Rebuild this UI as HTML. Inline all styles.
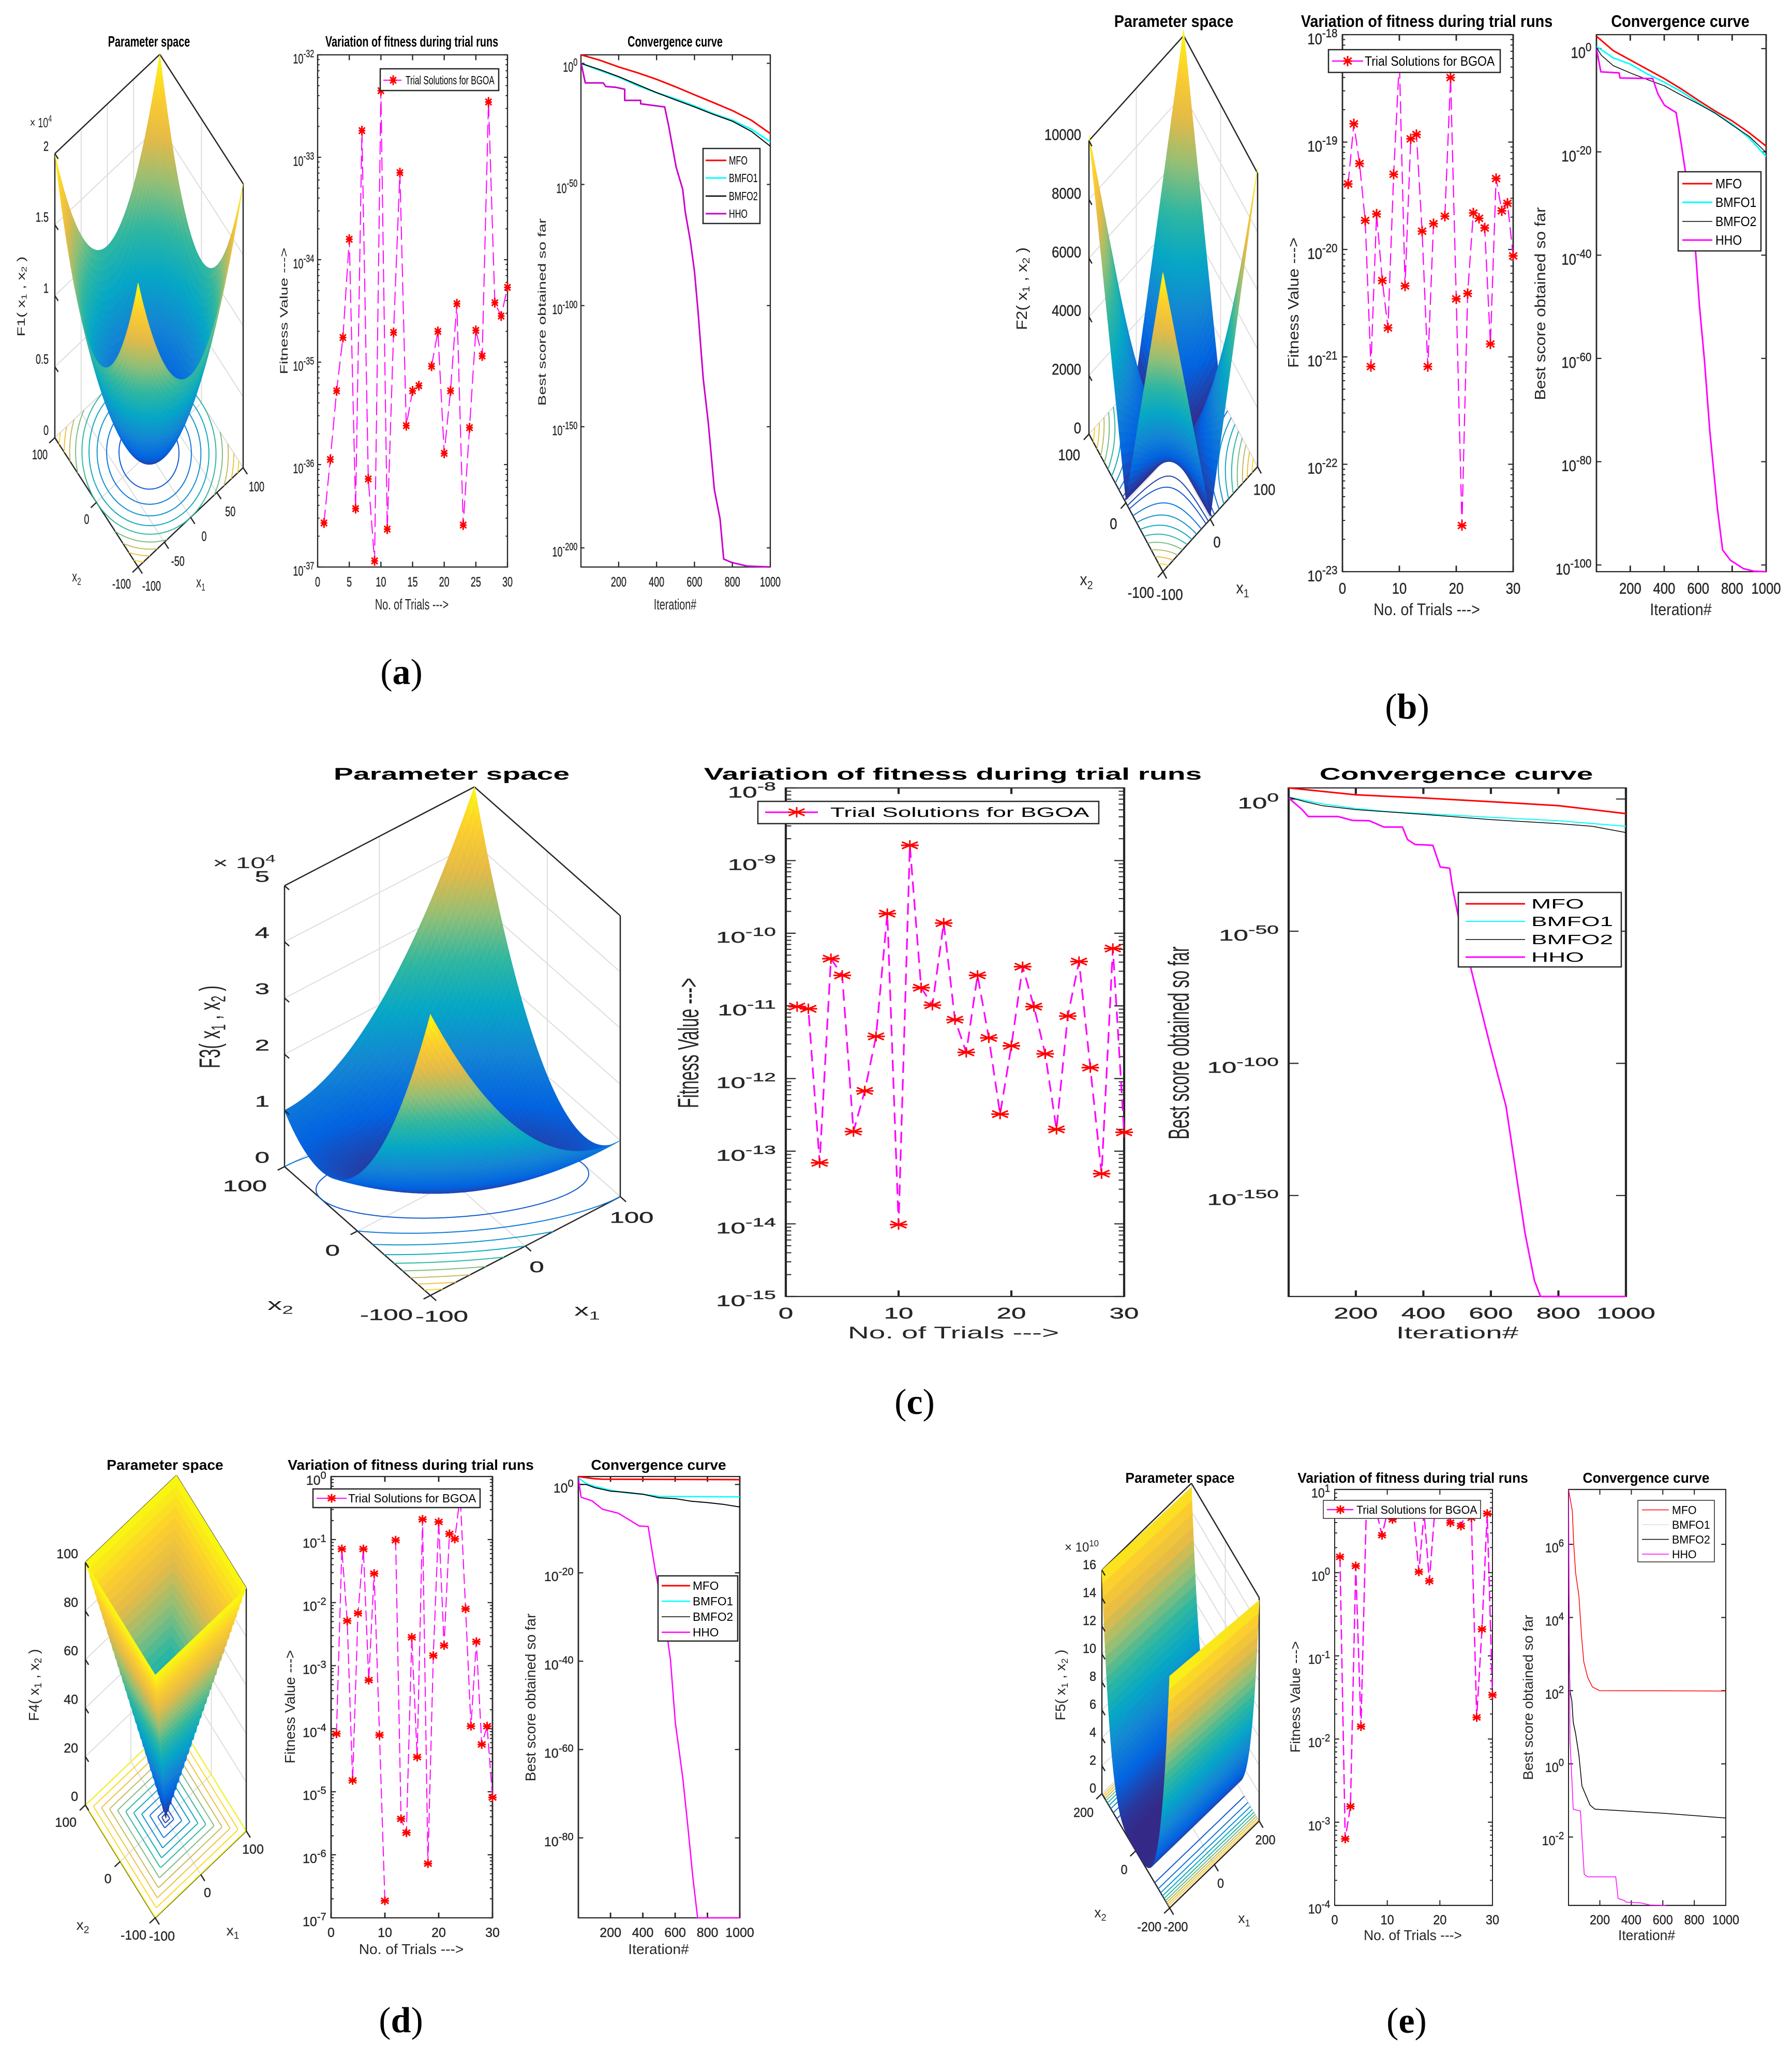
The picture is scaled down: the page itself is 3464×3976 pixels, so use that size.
<!DOCTYPE html>
<html lang="en">
<head>
<meta charset="utf-8">
<title>Parameter space, fitness variation and convergence curves F1-F5</title>
<style>
html,body{margin:0;padding:0;background:#fff;}
svg{display:block;}
text{font-family:"Liberation Sans",sans-serif;}
.title{font-size:22px;font-weight:bold;text-anchor:middle;fill:#000;}
.lab{font-size:22px;text-anchor:middle;fill:#262626;}
.zlab{font-size:24px;text-anchor:middle;fill:#262626;}
.leg{font-size:18px;fill:#000;}
.cap{font-family:"Liberation Serif",serif;font-size:70px;text-anchor:middle;fill:#000;}
.box{fill:#fff;stroke:#262626;stroke-width:2.5;}
</style>
</head>
<body>
<svg id="figure" xmlns="http://www.w3.org/2000/svg" width="3464" height="3976" viewBox="0 0 3464 3976">
<rect x="0" y="0" width="3464" height="3976" fill="#fff"/>
<g id="marks"></g>

<!-- PANEL A -->
<g>
<text class="title" transform="translate(288,90) scale(.9,1.3)">Parameter space</text>
<text class="title" transform="translate(796,90) scale(.9,1.3)">Variation of fitness during trial runs</text>
<text class="title" transform="translate(1305,90) scale(.9,1.3)">Convergence curve</text>
<text class="lab" transform="translate(796,1178) scale(.9,1.3)">No. of Trials ---&gt;</text>
<text class="lab" transform="translate(1305,1178) scale(.9,1.3)">Iteration#</text>
<text class="zlab" transform="translate(556,601) scale(.9,1.3) rotate(-90)">Fitness Value ---&gt;</text>
<text class="zlab" transform="translate(1055,603) scale(.9,1.3) rotate(-90)">Best score obtained so far</text>
<text class="zlab" transform="translate(48,573) scale(.9,1.3) rotate(-90)">F1( x<tspan dy="4" font-size="16">1</tspan><tspan dy="-4"> , x</tspan><tspan dy="4" font-size="16">2</tspan><tspan dy="-4"> )</tspan></text>
<text class="lab" transform="translate(148,1124) scale(.9,1.3)">x<tspan dy="5" font-size="15">2</tspan></text>
<text class="lab" transform="translate(388,1135) scale(.9,1.3)">x<tspan dy="5" font-size="15">1</tspan></text>
<text class="lab" transform="translate(79,246) scale(.9,1.3)" font-size="20" style="font-size:20px">× 10<tspan dy="-8" font-size="14">4</tspan></text>
<g>
<rect class="box" x="735" y="133" width="229" height="42"/>
<path d="M741,155H776" stroke="#f0f" stroke-width="2" fill="none"/>
<path transform="translate(760,155)" d="M0,-9.5V9.5M-6.5,0H6.5M-5.8,-6.2L5.8,6.2M-5.8,6.2L5.8,-6.2" stroke="#f00" stroke-width="3" fill="none"/>
<text class="leg" transform="translate(784,163) scale(.9,1.3)" style="font-size:17.5px">Trial Solutions for BGOA</text>
</g>
<g>
<rect class="box" x="1359" y="287" width="110" height="145"/>
<path d="M1364,310H1404" stroke="#f00" stroke-width="3"/>
<path d="M1364,344H1404" stroke="#0ff" stroke-width="3"/>
<path d="M1364,379H1404" stroke="#000" stroke-width="2.5"/>
<path d="M1364,413H1404" stroke="#c0c" stroke-width="3"/>
<text class="leg" transform="translate(1409,318) scale(.9,1.3)">MFO</text>
<text class="leg" transform="translate(1409,352) scale(.9,1.3)">BMFO1</text>
<text class="leg" transform="translate(1409,387) scale(.9,1.3)">BMFO2</text>
<text class="leg" transform="translate(1409,421) scale(.9,1.3)">HHO</text>
</g>
<text class="cap" x="776" y="1322">(<tspan font-weight="bold">a</tspan>)</text>
</g>

<!-- PANEL B -->
<g>
<text class="title" transform="translate(2269,52) scale(1.31,1.46)">Parameter space</text>
<text class="title" transform="translate(2758,52) scale(1.31,1.46)">Variation of fitness during trial runs</text>
<text class="title" transform="translate(3248,52) scale(1.31,1.46)">Convergence curve</text>
<text class="lab" transform="translate(2758,1189) scale(1.3,1.46)">No. of Trials ---&gt;</text>
<text class="lab" transform="translate(3249,1189) scale(1.3,1.46)">Iteration#</text>
<text class="lab" transform="translate(2510,585) scale(1.3,1.46) rotate(-90)">Fitness Value ---&gt;</text>
<text class="lab" transform="translate(2987,587) scale(1.3,1.46) rotate(-90)">Best score obtained so far</text>
<text class="lab" transform="translate(1985,558) scale(1.3,1.46) rotate(-90)">F2( x<tspan dy="4" font-size="15">1</tspan><tspan dy="-4"> , x</tspan><tspan dy="4" font-size="15">2</tspan><tspan dy="-4"> )</tspan></text>
<text class="lab" transform="translate(2100,1131) scale(1.3,1.46)">x<tspan dy="5" font-size="15">2</tspan></text>
<text class="lab" transform="translate(2402,1147) scale(1.3,1.46)">x<tspan dy="5" font-size="15">1</tspan></text>
<g>
<rect class="box" x="2568" y="96" width="332" height="44"/>
<path d="M2575,118H2635" stroke="#f0f" stroke-width="2.5"/>
<path transform="translate(2605,118)" d="M0,-10V10M-8.5,0H8.5M-7.6,-6.5L7.6,6.5M-7.6,6.5L7.6,-6.5" stroke="#f00" stroke-width="3" fill="none"/>
<text class="leg" transform="translate(2638,127) scale(1.28,1.46)">Trial Solutions for BGOA</text>
</g>
<g>
<rect class="box" x="3244" y="332" width="160" height="153"/>
<path d="M3252,355H3310" stroke="#f00" stroke-width="3"/>
<path d="M3252,391H3310" stroke="#0ff" stroke-width="3"/>
<path d="M3252,428H3310" stroke="#000" stroke-width="1.5"/>
<path d="M3252,464H3310" stroke="#f0f" stroke-width="3"/>
<text class="leg" transform="translate(3316,364) scale(1.28,1.46)">MFO</text>
<text class="leg" transform="translate(3316,400) scale(1.28,1.46)">BMFO1</text>
<text class="leg" transform="translate(3316,437) scale(1.28,1.46)">BMFO2</text>
<text class="leg" transform="translate(3316,473) scale(1.28,1.46)">HHO</text>
</g>
<text class="cap" x="2720" y="1389">(<tspan font-weight="bold">b</tspan>)</text>
</g>

<!-- PANEL C -->
<g>
<text class="title" transform="translate(873,1507) scale(2.59,1.46)">Parameter space</text>
<text class="title" transform="translate(1842,1507) scale(2.59,1.46)">Variation of fitness during trial runs</text>
<text class="title" transform="translate(2815,1507) scale(2.59,1.46)">Convergence curve</text>
<text class="lab" transform="translate(1843,2587) scale(2.58,1.46)">No. of Trials ---&gt;</text>
<text class="lab" transform="translate(2817,2587) scale(2.58,1.46)">Iteration#</text>
<text class="lab" transform="translate(1350,2016) scale(2.58,1.46) rotate(-90)">Fitness Value ---&gt;</text>
<text class="lab" transform="translate(2298,2016) scale(2.58,1.46) rotate(-90)">Best score obtained so far</text>
<text class="lab" transform="translate(425,1985) scale(2.58,1.46) rotate(-90)">F3( x<tspan dy="4" font-size="15">1</tspan><tspan dy="-4"> , x</tspan><tspan dy="4" font-size="15">2</tspan><tspan dy="-4"> )</tspan></text>
<text class="lab" transform="translate(542,2532) scale(2.58,1.46)">x<tspan dy="5" font-size="15">2</tspan></text>
<text class="lab" transform="translate(1135,2543) scale(2.58,1.46)">x<tspan dy="5" font-size="15">1</tspan></text>
<text class="lab" transform="translate(472,1678) scale(2.58,1.46)" style="font-size:20px">× 10<tspan dy="-8" font-size="14">4</tspan></text>
<g>
<rect class="box" x="1465" y="1549" width="659" height="43"/>
<path d="M1479,1570H1581" stroke="#f0f" stroke-width="3"/>
<path transform="translate(1540,1570)" d="M0,-10V10M-17,0H17M-15.3,-6.5L15.3,6.5M-15.3,6.5L15.3,-6.5" stroke="#f00" stroke-width="3" fill="none"/>
<text class="leg" transform="translate(1605,1579) scale(2.55,1.46)">Trial Solutions for BGOA</text>
</g>
<g>
<rect class="box" x="2819" y="1725" width="315" height="144"/>
<path d="M2833,1747H2948" stroke="#f00" stroke-width="3"/>
<path d="M2833,1781H2948" stroke="#0ff" stroke-width="2"/>
<path d="M2833,1816H2948" stroke="#000" stroke-width="1.5"/>
<path d="M2833,1850H2948" stroke="#f0f" stroke-width="3"/>
<text class="leg" transform="translate(2960,1756) scale(2.55,1.46)">MFO</text>
<text class="leg" transform="translate(2960,1790) scale(2.55,1.46)">BMFO1</text>
<text class="leg" transform="translate(2960,1825) scale(2.55,1.46)">BMFO2</text>
<text class="leg" transform="translate(2960,1859) scale(2.55,1.46)">HHO</text>
</g>
<text class="cap" x="1768" y="2733">(<tspan font-weight="bold">c</tspan>)</text>
</g>

<!-- PANEL D -->
<g>
<text class="title" transform="translate(319,2841) scale(1.28,1.27)">Parameter space</text>
<text class="title" transform="translate(794,2841) scale(1.28,1.27)">Variation of fitness during trial runs</text>
<text class="title" transform="translate(1273,2841) scale(1.28,1.27)">Convergence curve</text>
<text class="lab" transform="translate(795,3777) scale(1.28,1.27)">No. of Trials ---&gt;</text>
<text class="lab" transform="translate(1273,3777) scale(1.28,1.27)">Iteration#</text>
<text class="lab" transform="translate(570,3299) scale(1.28,1.27) rotate(-90)">Fitness Value ---&gt;</text>
<text class="lab" transform="translate(1035,3281) scale(1.28,1.27) rotate(-90)">Best score obtained so far</text>
<text class="lab" transform="translate(75,3257) scale(1.28,1.27) rotate(-90)">F4( x<tspan dy="4" font-size="15">1</tspan><tspan dy="-4"> , x</tspan><tspan dy="4" font-size="15">2</tspan><tspan dy="-4"> )</tspan></text>
<text class="lab" transform="translate(160,3730) scale(1.28,1.27)">x<tspan dy="5" font-size="15">2</tspan></text>
<text class="lab" transform="translate(450,3741) scale(1.28,1.27)">x<tspan dy="5" font-size="15">1</tspan></text>
<g>
<rect class="box" x="605" y="2878" width="323" height="36"/>
<path d="M612,2896H670" stroke="#f0f" stroke-width="2"/>
<path transform="translate(641,2896)" d="M0,-8.5V8.5M-8,0H8M-7.2,-5.5L7.2,5.5M-7.2,5.5L7.2,-5.5" stroke="#f00" stroke-width="3" fill="none"/>
<text class="leg" transform="translate(673,2904) scale(1.26,1.27)">Trial Solutions for BGOA</text>
</g>
<g>
<rect class="box" x="1272" y="3046" width="154" height="126"/>
<path d="M1279,3065H1334" stroke="#f00" stroke-width="3"/>
<path d="M1279,3095H1334" stroke="#0ff" stroke-width="2.5"/>
<path d="M1279,3125H1334" stroke="#000" stroke-width="1.5"/>
<path d="M1279,3155H1334" stroke="#f0f" stroke-width="2.5"/>
<text class="leg" transform="translate(1339,3073) scale(1.26,1.27)">MFO</text>
<text class="leg" transform="translate(1339,3103) scale(1.26,1.27)">BMFO1</text>
<text class="leg" transform="translate(1339,3133) scale(1.26,1.27)">BMFO2</text>
<text class="leg" transform="translate(1339,3163) scale(1.26,1.27)">HHO</text>
</g>
<text class="cap" x="775" y="3928">(<tspan font-weight="bold">d</tspan>)</text>
</g>

<!-- PANEL E -->
<g>
<text class="title" transform="translate(2281,2866) scale(1.2,1.25)">Parameter space</text>
<text class="title" transform="translate(2731,2866) scale(1.2,1.25)">Variation of fitness during trial runs</text>
<text class="title" transform="translate(3182,2866) scale(1.2,1.25)">Convergence curve</text>
<text class="lab" transform="translate(2731,3750) scale(1.2,1.25)">No. of Trials ---&gt;</text>
<text class="lab" transform="translate(3183,3750) scale(1.2,1.25)">Iteration#</text>
<text class="lab" transform="translate(2513,3280) scale(1.2,1.25) rotate(-90)">Fitness Value ---&gt;</text>
<text class="lab" transform="translate(2963,3281) scale(1.2,1.25) rotate(-90)">Best score obtained so far</text>
<text class="lab" transform="translate(2059,3257) scale(1.2,1.25) rotate(-90)">F5( x<tspan dy="4" font-size="15">1</tspan><tspan dy="-4"> , x</tspan><tspan dy="4" font-size="15">2</tspan><tspan dy="-4"> )</tspan></text>
<text class="lab" transform="translate(2127,3706) scale(1.2,1.25)">x<tspan dy="5" font-size="15">2</tspan></text>
<text class="lab" transform="translate(2405,3717) scale(1.2,1.25)">x<tspan dy="5" font-size="15">1</tspan></text>
<text class="lab" transform="translate(2091,2999) scale(1.2,1.25)" style="font-size:20px">× 10<tspan dy="-8" font-size="14">10</tspan></text>
<g>
<rect class="box" style="stroke-width:1.5" x="2558" y="2900" width="304" height="35"/>
<path d="M2565,2918H2616" stroke="#f0f" stroke-width="2.5"/>
<path transform="translate(2591,2918)" d="M0,-8.5V8.5M-8,0H8M-7.2,-5.5L7.2,5.5M-7.2,5.5L7.2,-5.5" stroke="#f00" stroke-width="3" fill="none"/>
<text class="leg" transform="translate(2622,2926) scale(1.19,1.25)">Trial Solutions for BGOA</text>
</g>
<g>
<rect class="box" style="stroke-width:1.5" x="3166" y="2900" width="148" height="119"/>
<path d="M3174,2918.5H3226" stroke="#f00" stroke-width="1.5"/>
<path d="M3174,2947H3226" stroke="#ddd" stroke-width="1.5"/>
<path d="M3174,2975.5H3226" stroke="#000" stroke-width="1.5"/>
<path d="M3174,3004H3226" stroke="#f0f" stroke-width="1.5"/>
<text class="leg" transform="translate(3232,2926.5) scale(1.19,1.25)">MFO</text>
<text class="leg" transform="translate(3232,2955) scale(1.19,1.25)">BMFO1</text>
<text class="leg" transform="translate(3232,2983.5) scale(1.19,1.25)">BMFO2</text>
<text class="leg" transform="translate(3232,3012) scale(1.19,1.25)">HHO</text>
</g>
<text class="cap" x="2719" y="3929">(<tspan font-weight="bold">e</tspan>)</text>
</g>
</svg>

<script>
/* ---------- Trial axis ---------- */
const trialNumbers = [1,2,3,4,5,6,7,8,9,10,11,12,13,14,15,16,17,18,19,20,21,22,23,24,25,26,27,28,29,30];

/* ---------- Fitness per trial (log10 of the value, null = no point drawn) ---------- */
const fitnessLogA = [-36.57,-35.95,-35.28,-34.76,-33.80,-36.43,-32.74,-36.14,-36.94,-32.35,-36.63,-34.71,-33.15,-35.62,-35.28,-35.23,null,-35.04,-34.70,-35.89,-35.28,-34.43,-36.59,-35.64,-34.69,-34.94,-32.46,-34.42,-34.55,-34.27];
const fitnessLogB = [-19.39,-18.83,-19.20,-19.73,-21.09,-19.67,-20.29,-20.73,-19.30,-18.24,-20.34,-18.97,-18.93,-19.83,-21.09,-19.76,null,-19.69,-18.40,-20.46,-22.57,-20.41,-19.66,-19.71,-19.80,-20.88,-19.34,-19.64,-19.57,-20.06];
const fitnessLogC = [-11.01,-11.04,-13.16,-10.35,-10.58,-12.73,-12.17,-11.42,-9.73,-14.01,-8.79,-10.75,-10.99,-9.86,-11.19,-11.64,-10.58,-11.44,-12.49,-11.55,-10.46,-11.01,-11.66,-12.70,-11.14,-10.39,-11.85,-13.31,-10.21,-12.74];
const fitnessLogD = [-4.08,-1.15,-2.29,-4.82,-2.17,-1.15,-3.23,-1.54,-4.10,-6.73,null,-1.01,-5.43,-5.65,-2.55,-4.45,-0.68,-6.14,-2.84,-0.72,-2.68,-0.91,-0.99,-0.30,-2.10,-3.96,-2.62,-4.25,-3.96,-5.09];
const fitnessLogE = [0.19,-3.20,-2.81,0.08,-1.85,0.72,0.72,0.72,0.45,0.72,0.64,0.72,0.72,0.72,0.72,0.01,0.72,-0.10,0.72,0.72,0.72,0.60,0.72,0.56,0.72,0.66,-1.74,-0.68,0.71,-1.47];

/* ---------- Tick labels ---------- */
const trialTicksA = [0,5,10,15,20,25,30];
const trialTicksOther = [0,10,20,30];
const iterationTicks = [200,400,600,800,1000];
const fitnessTicksA = [-37,-36,-35,-34,-33,-32];
const fitnessTicksB = [-23,-22,-21,-20,-19,-18];
const fitnessTicksC = [-15,-14,-13,-12,-11,-10,-9,-8];
const fitnessTicksD = [-7,-6,-5,-4,-3,-2,-1,0];
const fitnessTicksE = [-4,-3,-2,-1,0,1];
const scoreTicksA = [-200,-150,-100,-50,0];
const scoreTicksB = [-100,-80,-60,-40,-20,0];
const scoreTicksC = [-150,-100,-50,0];
const scoreTicksD = [-80,-60,-40,-20,0];
const scoreTicksE = [-2,0,2,4,6];

/* ---------- Convergence curves (iteration and log10 best score) ---------- */
const iterGridA = [1,100,200,300,400,500,600,700,800,900,1000];
const mfoA = [3.5,1.3,-1.5,-3.9,-6.6,-9.7,-13,-16.2,-19.5,-23.5,-29];
const bmfo1A = [0,-2.9,-5.7,-9.2,-12.1,-14.7,-17.6,-20.8,-23.5,-27.2,-32.4];
const bmfo2A = [0,-2.6,-5.5,-8.8,-12.1,-15.1,-18,-21.1,-23.9,-28.1,-34.2];
const hhoIterA = [1,24,119,132,186,232,232,316,316,443,465,503,538,551,578,600,619,646,673,705,735,754,795,876,1000];
const hhoA = [0.4,-8.1,-8.1,-9.6,-9.9,-10.7,-15.3,-15.3,-16.7,-18,-26.3,-42.8,-52,-61.2,-73.2,-86,-102.6,-130,-148.5,-176,-188,-204.6,-206,-207.5,-207.9];

const iterGridB = [1,100,200,300,400,500,600,700,800,900,1000];
const mfoB = [2.4,-0.4,-2.2,-4,-5.8,-7.8,-10,-12.1,-14,-16.3,-18.9];
const bmfo1B = [0.4,-1.8,-3,-4.9,-6.5,-8.3,-10.5,-12.5,-14.6,-17.3,-20.9];
const bmfo2IterB = [1,30,100,200,300,400,500,600,700,800,900,1000];
const bmfo2B = [0.2,-1.3,-3.3,-4.7,-6,-7.2,-9,-10.7,-12.5,-14.8,-17,-20.1];
const hhoIterB = [1,27,134,140,332,363,402,470,500,524,555,585,607,637,668,689,713,744,790,866,927,1000];
const hhoB = [0,-4.5,-4.7,-5.7,-5.8,-8.8,-11,-12.4,-18.4,-23.7,-30.9,-39.4,-49.7,-60.4,-73.9,-81,-89.1,-97.1,-99.1,-100.7,-101.2,-101.3];

const mfoIterC = [1,200,400,600,800,1000];
const mfoC = [4.2,1.6,0.4,-1,-2.5,-5.5];
const bmfo1IterC = [1,100,200,300,400,600,800,1000];
const bmfo1C = [0.7,-1.8,-3.6,-4.8,-5.5,-6.9,-8.2,-10.3];
const bmfo2IterC = [1,50,100,200,400,600,800,900,1000];
const bmfo2C = [0.7,-1,-2.5,-4,-5.8,-7.8,-9.3,-10.3,-12.7];
const hhoIterC = [1,41,59,147,190,240,283,338,353,375,428,450,478,487,506,552,599,645,673,701,729,747,1000];
const hhoC = [0.4,-4,-6.6,-6.6,-8.1,-8.2,-10.6,-10.6,-15.3,-17.2,-17.5,-25.7,-26.2,-34,-46,-69.9,-93.9,-116.3,-140.3,-164.2,-182.2,-188.2,-188.2];

const mfoIterD = [1,100,150,1000];
const mfoD = [1.8,1.3,1.2,1.1];
const bmfo1IterD = [1,50,100,200,300,400,500,1000];
const bmfo1D = [1.5,0.2,-0.4,-1.3,-1.9,-2.2,-2.7,-2.8];
const bmfo2IterD = [1,50,100,200,300,400,500,600,700,800,900,1000];
const bmfo2D = [0,0,-0.7,-1.5,-1.8,-2.2,-3,-3.2,-3.8,-4.1,-4.5,-5.1];
const hhoIterD = [1,18,86,150,248,316,377,433,457,479,540,571,601,647,678,709,739,1000];
const hhoD = [1.5,-2.9,-3.7,-5.6,-6.5,-8,-9.4,-9.5,-15,-19.9,-31.5,-39.6,-53.9,-66.4,-77.1,-88.7,-98.1,-98.1];

const mfoIterE = [1,25,34,46,67,83,98,123,153,199,1000];
const mfoE = [7.5,6.92,6.02,5.22,4.59,3.53,2.79,2.36,2.1,2,1.99];
const bmfo2IterE = [1,10,22,31,46,67,86,107,138,169,291,598,1000];
const bmfo2E = [4.59,1.99,1.73,1.14,0.83,0.24,-0.6,-0.82,-1.13,-1.24,-1.27,-1.35,-1.48];
const bmfo1IterE = [1,10,22,31,46,67,86,107,138,169,291,598,1000];
const bmfo1E = [4.5,1.95,1.7,1.1,0.8,0.2,-0.6,-0.82,-1.13,-1.24,-1.27,-1.35,-1.48];
const hhoIterE = [1,7,10,22,31,77,86,101,123,301,316,353,368,460,521,622];
const hhoE = [7.5,3.32,0.67,-0.39,-1.24,-1.29,-1.98,-3.02,-3.09,-3.09,-3.68,-3.73,-3.78,-3.8,-3.86,-3.87];

/* ---------- Surface height samples, rows run along x2, columns along x1 ---------- */
const surfaceA = [
[20000,15625,12500,10625,10000,10625,12500,15625,20000],
[15625,11250,8125,6250,5625,6250,8125,11250,15625],
[12500,8125,5000,3125,2500,3125,5000,8125,12500],
[10625,6250,3125,1250,625,1250,3125,6250,10625],
[10000,5625,2500,625,0,625,2500,5625,10000],
[10625,6250,3125,1250,625,1250,3125,6250,10625],
[12500,8125,5000,3125,2500,3125,5000,8125,12500],
[15625,11250,8125,6250,5625,6250,8125,11250,15625],
[20000,15625,12500,10625,10000,10625,12500,15625,20000]];
const surfaceB = [
[10200,7675,5150,2625,100,2625,5150,7675,10200],
[7675,5775,3875,1975,75,1975,3875,5775,7675],
[5150,3875,2600,1325,50,1325,2600,3875,5150],
[2625,1975,1325,675,25,675,1325,1975,2625],
[100,75,50,25,0,25,50,75,100],
[2625,1975,1325,675,25,675,1325,1975,2625],
[5150,3875,2600,1325,50,1325,2600,3875,5150],
[7675,5775,3875,1975,75,1975,3875,5775,7675],
[10200,7675,5150,2625,100,2625,5150,7675,10200]];
const surfaceC = [
[50000,40625,32500,25625,20000,15625,12500,10625,10000],
[36250,28125,21250,15625,11250,8125,6250,5625,6250],
[25000,18125,12500,8125,5000,3125,2500,3125,5000],
[16250,10625,6250,3125,1250,625,1250,3125,6250],
[10000,5625,2500,625,0,625,2500,5625,10000],
[6250,3125,1250,625,1250,3125,6250,10625,16250],
[5000,3125,2500,3125,5000,8125,12500,18125,25000],
[6250,5625,6250,8125,11250,15625,21250,28125,36250],
[10000,10625,12500,15625,20000,25625,32500,40625,50000]];
const surfaceD = [
[100,100,100,100,100,100,100,100,100],
[100,75,75,75,75,75,75,75,100],
[100,75,50,50,50,50,50,75,100],
[100,75,50,25,25,25,50,75,100],
[100,75,50,25,0,25,50,75,100],
[100,75,50,25,25,25,50,75,100],
[100,75,50,50,50,50,50,75,100],
[100,75,75,75,75,75,75,75,100],
[100,100,100,100,100,100,100,100,100]];
const surfaceE = [
[16.6,16.2,15.8],[9.7,9.45,9.2],[5.25,5.1,4.95],[2.52,2.46,2.4],[1.03,1,0.98],[0.325,0.316,0.31],[0.064,0.0625,0.061],[0.004,0.004,0.004],[0,0,0],
[0.004,0.004,0.004],[0.064,0.0625,0.061],[0.325,0.316,0.31],[1.01,1,0.98],[2.48,2.44,2.4],[5.14,5.06,4.95],[9.5,9.4,9.2],[16,15.85,15.72]];

/* ---------- Contour levels and 3-D tick values ---------- */
const contourLevelsA = [2000,4000,6000,8000,10000,12000,14000,16000,18000];
const contourLevelsB = [500,1000,2000,3000,4000,5000,6000,7000,8000,9000];
const contourLevelsC = [5000,10000,15000,20000,25000,30000,35000,40000,45000];
const contourLevelsD = [5,10,20,30,40,50,60,70,80,90,99.5];
const contourLevelsE = [1.6,3.2,4.8,6.4,8,9.6,11.2,12.8,14.4];
const zTicksA = [0,5000,10000,15000,20000];
const zLabelsA = ['0','0.5','1','1.5','2'];
const zTicksB = [0,2000,4000,6000,8000,10000];
const zLabelsB = ['0','2000','4000','6000','8000','10000'];
const zTicksC = [0,10000,20000,30000,40000,50000];
const zLabelsC = ['0','1','2','3','4','5'];
const zTicksD = [0,20,40,60,80,100];
const zLabelsD = ['0','20','40','60','80','100'];
const zTicksE = [0,2,4,6,8,10,12,14,16];
const zLabelsE = ['0','2','4','6','8','10','12','14','16'];
const x1TicksA = [-100,-50,0,50,100];
const x2TicksA = [-100,0,100];
const xyTicksOther = [-100,0,100];
const xyTicksE = [-200,0,200];

/* ---------- Colormap stops ---------- */
const parulaStops = [[0,53,42,135],[0.125,3,99,225],[0.25,20,133,212],[0.375,6,167,198],[0.5,48,183,160],[0.625,145,191,119],[0.75,228,186,72],[0.875,252,206,46],[1,249,251,14]];

/* ---------- Panel layout ---------- */
const panels = [
 {id:'a',sx:.9,sy:1.3,vw:2.3,
  surf:{F:[267,1096],L:[106,846],R:[470,904],H:549,zMax:20000,grid:surfaceA,mode:'smooth',stepU:2,stepV:2,levels:contourLevelsA,zTicks:zTicksA,zLabels:zLabelsA,x1Ticks:x1TicksA,x2Ticks:x2TicksA,range:[-100,100],off1:[26,36],off2:[-14,32],zGap:12,zDy:-15},
  mid:{box:[614,106,981,1096],yMin:-37,yMax:-32,xTicks:trialTicksA,yTicks:fitnessTicksA,values:fitnessLogA,mx:6.5,my:9.5,lw:2,dash:'26,10'},
  conv:{box:[1123,106,1489,1096],yMin:-207.9,yMax:3.5,yTicks:scoreTicksA,series:[
    {n:'mfo',it:iterGridA,v:mfoA,c:'#f00',w:3},{n:'bmfo1',it:iterGridA,v:bmfo1A,c:'#0ff',w:3},{n:'bmfo2',it:iterGridA,v:bmfo2A,c:'#000',w:2},{n:'hho',it:hhoIterA,v:hhoA,c:'#c0c',w:3}]}},
 {id:'b',sx:1.28,sy:1.46,vw:2.8,
  surf:{F:[2248,1105],L:[2105,839],R:[2431,902],H:567,zMax:10000,grid:surfaceB,mode:'linear',stepU:2,stepV:2,levels:contourLevelsB,zTicks:zTicksB,zLabels:zLabelsB,x1Ticks:xyTicksOther,x2Ticks:xyTicksOther,range:[-100,100],off1:[13,44],off2:[-17,40],zGap:15,zDy:-12},
  mid:{box:[2595,67,2925,1105],yMin:-23,yMax:-18,xTicks:trialTicksOther,yTicks:fitnessTicksB,values:fitnessLogB,mx:8.5,my:10,lw:2.2,dash:'24,10'},
  conv:{box:[3086,67,3414,1105],yMin:-101.3,yMax:2.7,yTicks:scoreTicksB,series:[
    {n:'mfo',it:iterGridB,v:mfoB,c:'#f00',w:3},{n:'bmfo1',it:iterGridB,v:bmfo1B,c:'#0ff',w:3},{n:'bmfo2',it:bmfo2IterB,v:bmfo2B,c:'#000',w:1.5},{n:'hho',it:hhoIterB,v:hhoB,c:'#f0f',w:3}]}},
 {id:'c',sx:2.55,sy:1.46,vw:4.2,
  surf:{F:[832,2504],L:[550,2255],R:[1199,2313],H:543,zMax:50000,grid:surfaceC,mode:'smooth',stepU:2,stepV:2,levels:contourLevelsC,zTicks:zTicksC,zLabels:zLabelsC,x1Ticks:xyTicksOther,x2Ticks:xyTicksOther,range:[-100,100],off1:[22,40],off2:[-34,37],zGap:29,zDy:-18},
  mid:{box:[1519,1523,2173,2506],yMin:-15,yMax:-8,xTicks:trialTicksOther,yTicks:fitnessTicksC,values:fitnessLogC,mx:17,my:10,lw:3.2,dash:'22,12'},
  conv:{box:[2491,1523,3143,2506],yMin:-188.2,yMax:4.2,yTicks:scoreTicksC,series:[
    {n:'mfo',it:mfoIterC,v:mfoC,c:'#f00',w:3},{n:'bmfo1',it:bmfo1IterC,v:bmfo1C,c:'#0ff',w:2},{n:'bmfo2',it:bmfo2IterC,v:bmfo2C,c:'#000',w:1.5},{n:'hho',it:hhoIterC,v:hhoC,c:'#f0f',w:3}]}},
 {id:'d',sx:1.25,sy:1.27,vw:2.8,
  surf:{F:[300,3707],L:[165,3489],R:[476,3539],H:469,zMax:100,grid:surfaceD,mode:'ridge',stepU:2,stepV:2,levels:contourLevelsD,zTicks:zTicksD,zLabels:zLabelsD,x1Ticks:xyTicksOther,x2Ticks:xyTicksOther,range:[-100,100],off1:[13,35],off2:[-17,33],zGap:14,zDy:-17},
  mid:{box:[640,2854,952,3707],yMin:-7,yMax:0,xTicks:trialTicksOther,yTicks:fitnessTicksD,values:fitnessLogD,mx:8,my:8.5,lw:2,dash:'20,8'},
  conv:{box:[1118,2854,1430,3707],yMin:-98.1,yMax:1.8,yTicks:scoreTicksD,series:[
    {n:'mfo',it:mfoIterD,v:mfoD,c:'#f00',w:3},{n:'bmfo1',it:bmfo1IterD,v:bmfo1D,c:'#0ff',w:2.5},{n:'bmfo2',it:bmfo2IterD,v:bmfo2D,c:'#000',w:2},{n:'hho',it:hhoIterD,v:hhoD,c:'#f0f',w:2.5}]}},
 {id:'e',sx:1.17,sy:1.25,vw:2,
  surf:{F:[2261,3688],L:[2130,3467],R:[2434,3520],H:432,zMax:16,grid:surfaceE,mode:'smooth',stepU:8,stepV:1,levels:contourLevelsE,zTicks:zTicksE,zLabels:zLabelsE,x1Ticks:xyTicksE,x2Ticks:xyTicksE,range:[-200,200],off1:[12,36],off2:[-16,36],zGap:11,zDy:-11},
  mid:{box:[2580,2879,2885,3683],yMin:-4,yMax:1,xTicks:trialTicksOther,yTicks:fitnessTicksE,values:fitnessLogE,mx:8,my:8.5,lw:2.5,dash:'20,8'},
  conv:{box:[3032,2879,3336,3683],yMin:-3.87,yMax:7.5,yTicks:scoreTicksE,series:[
    {n:'mfo',it:mfoIterE,v:mfoE,c:'#f00',w:1.5},{n:'bmfo1',it:bmfo1IterE,v:bmfo1E,c:'#ddd',w:1.5},{n:'bmfo2',it:bmfo2IterE,v:bmfo2E,c:'#000',w:1.5},{n:'hho',it:hhoIterE,v:hhoE,c:'#f0f',w:1.5}]}}
];

/* ---------- Drawing helpers ---------- */
const NS = 'http://www.w3.org/2000/svg';
const marksRoot = document.getElementById('marks');
const INK = '#262626';
function mk(tag, name, parent, attrs) {
  const el = document.createElementNS(NS, tag);
  
  
  for (const k in attrs) el.setAttribute(k, attrs[k]);
  parent.appendChild(el);
  return el;
}
function label(parent, name, x, y, str, sup, anchor, p) {
  const t = mk('text', name, parent, {transform:'translate(' + x + ',' + y + ') scale(' + p.sx + ',' + p.sy + ')','font-size':20,'text-anchor':anchor,fill:INK,stroke:INK,'stroke-width':0.3});
  t.textContent = str;
  if (sup !== null) {
    const s = document.createElementNS(NS, 'tspan');
    s.setAttribute('dy', '-9');
    s.setAttribute('font-size', '16');
    s.textContent = sup;
    t.appendChild(s);
  }
  return t;
}
function parula(t) {
  t = Math.max(0, Math.min(1, t));
  for (let i = 1; i < parulaStops.length; i++) {
    const a = parulaStops[i-1], b = parulaStops[i];
    if (t <= b[0]) {
      const f = (t - a[0]) / (b[0] - a[0]);
      return 'rgb(' + Math.round(a[1]+(b[1]-a[1])*f) + ',' + Math.round(a[2]+(b[2]-a[2])*f) + ',' + Math.round(a[3]+(b[3]-a[3])*f) + ')';
    }
  }
  return 'rgb(249,251,14)';
}
function linScale(d0, d1, r0, r1) {
  return function (v) { return r0 + (v - d0) / (d1 - d0) * (r1 - r0); };
}
function ext(arr, i) {
  const n = arr.length;
  if (i < 0) return 3*arr[0] - 3*arr[1] + arr[2];
  if (i >= n) return 3*arr[n-1] - 3*arr[n-2] + arr[n-3];
  return arr[i];
}
function cubic(p0, p1, p2, p3, t) {
  return 0.5 * (2*p1 + (p2-p0)*t + (2*p0-5*p1+4*p2-p3)*t*t + (3*p1-p0-3*p2+p3)*t*t*t);
}
function heightAt(grid, mode, u, v) {
  const rows = grid.length, cols = grid[0].length;
  const fu = u * (cols-1), fv = v * (rows-1);
  const iu = Math.min(cols-2, Math.floor(fu)), iv = Math.min(rows-2, Math.floor(fv));
  const tu = fu - iu, tv = fv - iv;
  if (mode === 'smooth') {
    const colVals = grid.map(function (r) {
      return cubic(ext(r,iu-1), ext(r,iu), ext(r,iu+1), ext(r,iu+2), tu);
    });
    return Math.max(0, cubic(ext(colVals,iv-1), ext(colVals,iv), ext(colVals,iv+1), ext(colVals,iv+2), tv));
  }
  const a = grid[iv][iu], b = grid[iv][iu+1], c = grid[iv+1][iu], d = grid[iv+1][iu+1];
  if (mode === 'ridge') {
    /* a cell with one odd corner folds along its diagonal */
    const corners = [[a,0,0],[b,1,0],[c,0,1],[d,1,1]];
    for (let k = 0; k < 4; k++) {
      const others = corners.filter(function (q, idx) { return idx !== k; });
      if (others[0][0] === others[1][0] && others[1][0] === others[2][0] && corners[k][0] !== others[0][0]) {
        const du = Math.abs(tu - corners[k][1]), dv = Math.abs(tv - corners[k][2]);
        return corners[k][0] + (others[0][0] - corners[k][0]) * Math.max(du, dv);
      }
    }
  }
  return (a*(1-tu)+b*tu)*(1-tv) + (c*(1-tu)+d*tu)*tv;
}

/* ---------- 3-D surface panel ---------- */
function drawSurface(p) {
  const s = p.surf;
  const g = mk('g', p.id + '-surface-plot', marksRoot, {});
  const du = [s.R[0]-s.F[0], s.R[1]-s.F[1]];
  const dv = [s.L[0]-s.F[0], s.L[1]-s.F[1]];
  function proj(u, v, z) {
    return [s.F[0] + u*du[0] + v*dv[0], s.F[1] + u*du[1] + v*dv[1] - z/s.zMax*s.H];
  }
  function seg(name, a, b, stroke, w) {
    return mk('line', name, g, {x1:a[0].toFixed(1),y1:a[1].toFixed(1),x2:b[0].toFixed(1),y2:b[1].toFixed(1),stroke:stroke,'stroke-width':w});
  }
  const toU = linScale(s.range[0], s.range[1], 0, 1);
  const GRID = '#dedede';
  s.zTicks.forEach(function (z) {
    seg(p.id + '-z-gridline', proj(0,1,z), proj(1,1,z), GRID, 2);
    seg(p.id + '-z-gridline', proj(1,1,z), proj(1,0,z), GRID, 2);
  });
  s.x1Ticks.forEach(function (t) {
    const u = toU(t);
    seg(p.id + '-x1-gridline', proj(u,1,0), proj(u,1,s.zMax), GRID, 2);
    seg(p.id + '-x1-gridline', proj(u,0,0), proj(u,1,0), GRID, 2);
  });
  s.x2Ticks.forEach(function (t) {
    const v = toU(t);
    seg(p.id + '-x2-gridline', proj(1,v,0), proj(1,v,s.zMax), GRID, 2);
    seg(p.id + '-x2-gridline', proj(0,v,0), proj(1,v,0), GRID, 2);
  });
  seg(p.id + '-box-edge', proj(0,1,0), proj(0,1,s.zMax), INK, 2.5);
  seg(p.id + '-box-edge', proj(0,1,s.zMax), proj(1,1,s.zMax), INK, 2.5);
  seg(p.id + '-box-edge', proj(1,1,s.zMax), proj(1,0,s.zMax), INK, 2.5);
  seg(p.id + '-box-edge', proj(1,0,s.zMax), proj(1,0,0), INK, 2.5);
  seg(p.id + '-box-edge', proj(0,1,0), proj(0,0,0), INK, 2.5);
  seg(p.id + '-box-edge', proj(0,0,0), proj(1,0,0), INK, 2.5);

  const RES = 128;
  const zs = [];
  let cMax = 0;
  for (let j = 0; j <= RES; j++) {
    const row = [];
    for (let i = 0; i <= RES; i++) {
      const z = heightAt(s.grid, s.mode, i/RES, j/RES);
      row.push(z);
      if (z > cMax) cMax = z;
    }
    zs.push(row);
  }
  /* contours on the floor */
  s.levels.forEach(function (lv) {
    let d = '';
    for (let j = 0; j < RES; j++) {
      for (let i = 0; i < RES; i++) {
        const c = [[i,j,zs[j][i]],[i+1,j,zs[j][i+1]],[i+1,j+1,zs[j+1][i+1]],[i,j+1,zs[j+1][i]]];
        const pts = [];
        for (let k = 0; k < 4; k++) {
          const a = c[k], b = c[(k+1)%4];
          if ((a[2] < lv) !== (b[2] < lv)) {
            const f = (lv - a[2]) / (b[2] - a[2]);
            pts.push(proj((a[0]+(b[0]-a[0])*f)/RES, (a[1]+(b[1]-a[1])*f)/RES, 0));
          }
        }
        for (let k = 0; k + 1 < pts.length; k += 2) {
          d += 'M' + pts[k][0].toFixed(1) + ',' + pts[k][1].toFixed(1) + 'L' + pts[k+1][0].toFixed(1) + ',' + pts[k+1][1].toFixed(1);
        }
      }
    }
    mk('path', p.id + '-contour-line', g, {d:d,fill:'none',stroke:parula(lv/cMax),'stroke-width':2});
  });
  /* surface, back to front */
  const surfG = mk('g', p.id + '-surface', g, {});
  for (let j0 = RES - s.stepV; j0 >= 0; j0 -= s.stepV) {
    for (let i0 = RES - s.stepU; i0 >= 0; i0 -= s.stepU) {
      const i1 = i0 + s.stepU, j1 = j0 + s.stepV;
      const corners = [[i0,j0],[i1,j0],[i1,j1],[i0,j1]];
      let pts = '', mean = 0;
      corners.forEach(function (c) {
        const z = zs[c[1]][c[0]];
        mean += z/4;
        const q = proj(c[0]/RES, c[1]/RES, z);
        pts += q[0].toFixed(1) + ',' + q[1].toFixed(1) + ' ';
      });
      const col = parula(mean/cMax);
      mk('polygon', p.id + '-surface-cell', surfG, {points:pts,fill:col,stroke:col,'stroke-width':1});
    }
  }
  /* ticks and labels */
  function unit(v) { const l = Math.hypot(v[0], v[1]); return [v[0]/l, v[1]/l]; }
  const nU = unit(du), nV = unit(dv);
  const TL = 15, bl = 0.36*20*p.sy;
  s.x1Ticks.forEach(function (t) {
    const a = proj(toU(t),0,0);
    seg(p.id + '-x1-tick', a, [a[0]-nV[0]*TL, a[1]-nV[1]*TL], INK, 2.5);
    label(g, p.id + '-x1-tick-label', a[0]+s.off1[0], a[1]+s.off1[1]+bl, String(t), null, 'middle', p);
  });
  s.x2Ticks.forEach(function (t) {
    const a = proj(0,toU(t),0);
    seg(p.id + '-x2-tick', a, [a[0]-nU[0]*TL, a[1]-nU[1]*TL], INK, 2.5);
    label(g, p.id + '-x2-tick-label', a[0]+s.off2[0], a[1]+s.off2[1]+bl, String(t), null, 'end', p);
  });
  s.zTicks.forEach(function (z, i) {
    const a = proj(0,1,z);
    seg(p.id + '-z-tick', a, [a[0]-nV[0]*TL*0.8, a[1]-nV[1]*TL*0.8], INK, 2.5);
    label(g, p.id + '-z-tick-label', a[0]-s.zGap, a[1]+s.zDy+bl, s.zLabels[i], null, 'end', p);
  });
}

/* ---------- Shared 2-D axes ---------- */
function drawAxes(g, p, box, ys, xTicks, yTicks, xScale, yScale, minors, prefix) {
  const hLen = 7.5*p.sx, vLen = 8*p.sy;
  mk('line', prefix + '-left-spine', g, {x1:box[0],x2:box[0],y1:box[1]-1,y2:box[3]+1,stroke:INK,'stroke-width':p.vw});
  mk('line', prefix + '-right-spine', g, {x1:box[2],x2:box[2],y1:box[1]-1,y2:box[3]+1,stroke:INK,'stroke-width':p.vw});
  mk('line', prefix + '-top-spine', g, {x1:box[0],x2:box[2],y1:box[1],y2:box[1],stroke:INK,'stroke-width':2.3});
  mk('line', prefix + '-bottom-spine', g, {x1:box[0],x2:box[2],y1:box[3],y2:box[3],stroke:INK,'stroke-width':2.3});
  xTicks.forEach(function (t) {
    const x = xScale(t);
    mk('line', prefix + '-x-tick', g, {x1:x,x2:x,y1:box[3],y2:box[3]-vLen,stroke:INK,'stroke-width':p.vw});
    mk('line', prefix + '-x-tick', g, {x1:x,x2:x,y1:box[1],y2:box[1]+vLen,stroke:INK,'stroke-width':p.vw});
    label(g, prefix + '-x-tick-label', x, box[3]+29*p.sy, String(t), null, 'middle', p);
  });
  yTicks.forEach(function (t) {
    const y = yScale(t);
    mk('line', prefix + '-y-tick', g, {x1:box[0],x2:box[0]+hLen,y1:y,y2:y,stroke:INK,'stroke-width':2.2});
    mk('line', prefix + '-y-tick', g, {x1:box[2],x2:box[2]-hLen,y1:y,y2:y,stroke:INK,'stroke-width':2.2});
    label(g, prefix + '-y-tick-label', box[0]-7.5*p.sx, y+12.5*p.sy, '10', String(t), 'end', p);
  });
  if (minors) {
    yTicks.forEach(function (t) {
      minors.forEach(function (m) {
        const v = t + Math.log10(m);
        if (v > ys) return;
        const y = yScale(v);
        mk('line', prefix + '-y-minor-tick', g, {x1:box[0],x2:box[0]+hLen*0.55,y1:y,y2:y,stroke:INK,'stroke-width':2});
        mk('line', prefix + '-y-minor-tick', g, {x1:box[2],x2:box[2]-hLen*0.55,y1:y,y2:y,stroke:INK,'stroke-width':2});
      });
    });
  }
}

/* ---------- Fitness scatter ---------- */
function drawFitness(p) {
  const m = p.mid, b = m.box;
  const g = mk('g', p.id + '-fitness-plot', marksRoot, {});
  const xScale = linScale(0, 30, b[0], b[2]);
  const yScale = linScale(m.yMin, m.yMax, b[3], b[1]);
  drawAxes(g, p, b, m.yMax, m.xTicks, m.yTicks, xScale, yScale, [2,3,4,5,6,7,8,9], p.id + '-fitness');
  let run = [];
  function flush() {
    if (run.length > 1) {
      mk('polyline', p.id + '-fitness-line', g, {points:run.join(' '),fill:'none',stroke:'#f0f','stroke-width':m.lw,'stroke-dasharray':m.dash});
    }
    run = [];
  }
  trialNumbers.forEach(function (t, i) {
    const v = m.values[i];
    if (v === null) { flush(); return; }
    run.push(xScale(t).toFixed(1) + ',' + yScale(v).toFixed(1));
  });
  flush();
  trialNumbers.forEach(function (t, i) {
    const v = m.values[i];
    if (v === null) return;
    const x = xScale(t), y = yScale(v), rx = m.mx, ry = m.my;
    const d = 'M' + x + ',' + (y-ry) + 'V' + (y+ry) +
      'M' + (x-rx) + ',' + y + 'H' + (x+rx) +
      'M' + (x-rx*0.9) + ',' + (y-ry*0.65) + 'L' + (x+rx*0.9) + ',' + (y+ry*0.65) +
      'M' + (x-rx*0.9) + ',' + (y+ry*0.65) + 'L' + (x+rx*0.9) + ',' + (y-ry*0.65);
    mk('path', p.id + '-trial-point-' + t, g, {d:d,fill:'none',stroke:'#f00','stroke-width':3});
  });
}

/* ---------- Convergence curves ---------- */
function drawConvergence(p) {
  const c = p.conv, b = c.box;
  const g = mk('g', p.id + '-convergence-plot', marksRoot, {});
  const xScale = linScale(1, 1000, b[0], b[2]);
  const yScale = linScale(c.yMin, c.yMax, b[3], b[1]);
  drawAxes(g, p, b, c.yMax, iterationTicks, c.yTicks, xScale, yScale, null, p.id + '-convergence');
  const clip = mk('clipPath', p.id + '-convergence-clip', g, {id:'clip-' + p.id});
  mk('rect', p.id + '-convergence-clip-rect', clip, {x:b[0],y:b[1]-2,width:b[2]-b[0],height:b[3]-b[1]+4});
  const lines = mk('g', p.id + '-convergence-lines', g, {'clip-path':'url(#clip-' + p.id + ')'});
  c.series.forEach(function (s) {
    const pts = s.it.map(function (it, i) {
      return xScale(it).toFixed(1) + ',' + yScale(s.v[i]).toFixed(1);
    }).join(' ');
    mk('polyline', p.id + '-curve-' + s.n, lines, {points:pts,fill:'none',stroke:s.c,'stroke-width':s.w,'stroke-linejoin':'round'});
  });
}

panels.forEach(function (p) {
  drawSurface(p);
  drawFitness(p);
  drawConvergence(p);
});
</script>
</body>
</html>
